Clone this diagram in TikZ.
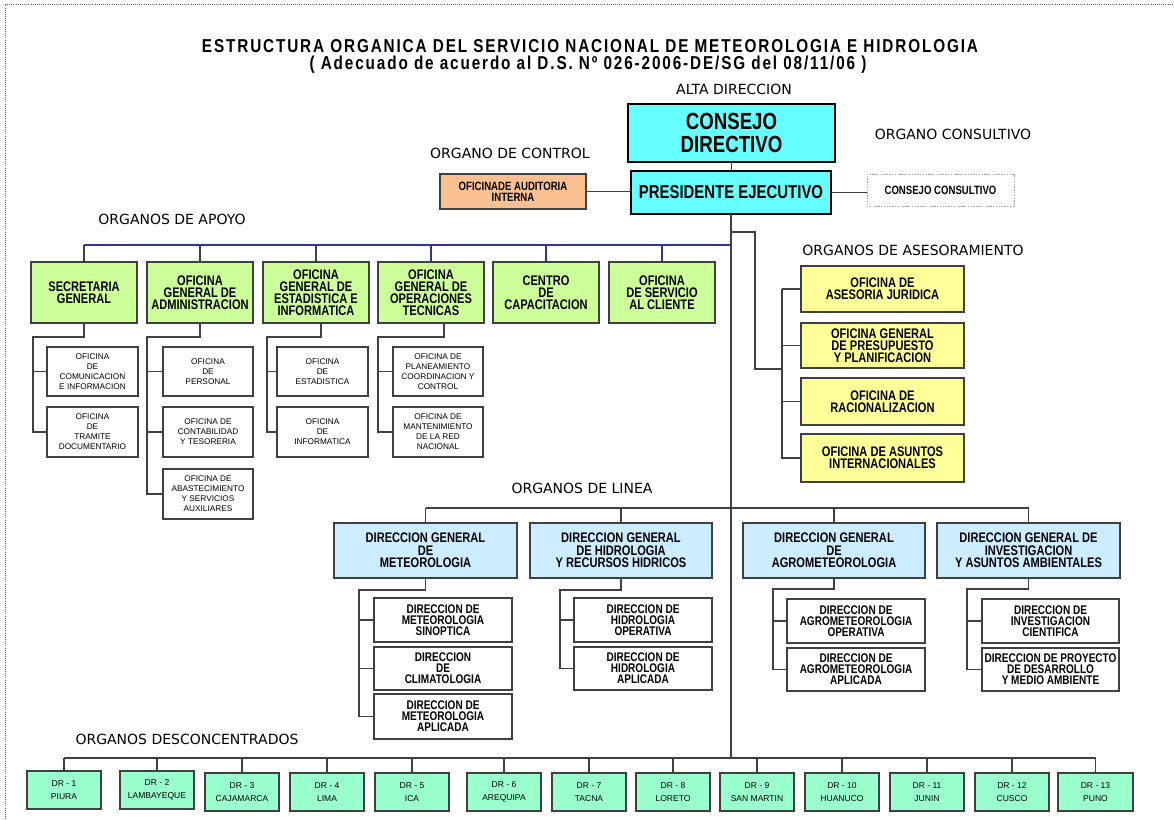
\documentclass[tikz,border=0pt]{standalone}
\usepackage{fontspec}
\setmainfont{Liberation Sans}
\newfontfamily\condf[FakeStretch=0.8]{Liberation Sans}
\newfontfamily\titlef[FakeStretch=0.82,LetterSpace=10]{Liberation Sans}
\newfontfamily\verdf{DejaVu Sans}
\usetikzlibrary{calc}
\definecolor{cyanC}{HTML}{66FFFF}
\definecolor{orangeC}{HTML}{FAC08F}
\definecolor{greenC}{HTML}{CCFF99}
\definecolor{yellowC}{HTML}{FFFF99}
\definecolor{blueC}{HTML}{CCECFF}
\definecolor{drC}{HTML}{99FFCC}
\definecolor{bordC}{HTML}{404040}
\definecolor{navyC}{HTML}{333399}
\newcommand\mycb[2]{\condf\bfseries\fontsize{#1}{#2}\selectfont}
\newcommand\myrg[2]{\fontsize{#1}{#2}\selectfont}
\newcommand\bx[7]{\node[#2, minimum width={(#5-#3)*0.75pt}, minimum height={(#6-#4)*0.75pt}] (#1) at ({(#3+#5)/2},{(#4+#6)/2}) {#7};}
\tikzset{
  bxs/.style={draw=bordC, line width=1.1pt, inner sep=0pt, outer sep=0pt, align=center},
  cdbox/.style={bxs, draw=black, line width=2pt, fill=cyanC},
  audbox/.style={bxs, fill=orangeC, font={\mycb{9}{8.5}}},
  ccbox/.style={bxs, draw=gray!70, densely dotted, line width=0.7pt, font={\mycb{9}{8.5}}},
  gbox/.style={bxs, fill=greenC, font={\mycb{10.4}{9}}},
  ybox/.style={bxs, fill=yellowC, font={\mycb{10.4}{9}}},
  dgbox/.style={bxs, fill=blueC, font={\mycb{10.4}{9.4}}},
  dsub/.style={bxs, fill=white, font={\mycb{9.4}{8.2}}},
  asub/.style={bxs, line width=0.9pt, fill=white, font={\myrg{6.2}{7.5}}},
  drbox/.style={bxs, fill=drC, font={\myrg{6.4}{9.6}}},
  lab/.style={inner sep=0pt, font={\verdf\fontsize{10.5}{12}\selectfont}},
  ttl/.style={inner sep=0pt, font={\titlef\bfseries\fontsize{14}{15}\selectfont}},
  conn/.style={draw=bordC, line width=0.8pt},
  bconn/.style={draw=navyC, line width=0.8pt},
  frame/.style={draw=gray!80!black, densely dotted, line width=0.6pt}
}
\begin{document}
\begin{tikzpicture}[x=0.75pt,y=-0.75pt]
\useasboundingbox (0,0) rectangle (1174,819);
\draw[frame] (5,819) -- (5,4) -- (1174,4);

% titles and labels
\node[ttl] (t1) at (590,46) {ESTRUCTURA ORGANICA DEL SERVICIO NACIONAL DE METEOROLOGIA E HIDROLOGIA};
\node[ttl] (t2) at (588,65) {( Adecuado de acuerdo al D.S. Nº 026-2006-DE/SG del 08/11/06 )};
\node[lab] (lalta) at (734,89) {ALTA DIRECCION};
\node[lab] (lcons) at (953,134) {ORGANO CONSULTIVO};
\node[lab] (lctrl) at (510,153) {ORGANO DE CONTROL};
\node[lab] (lapoyo) at (172,219) {ORGANOS DE APOYO};
\node[lab] (lases) at (913,250) {ORGANOS DE ASESORAMIENTO};
\node[lab] (llinea) at (582,488) {ORGANOS DE LINEA};
\node[lab] (ldesc) at (187,739) {ORGANOS DESCONCENTRADOS};

% alta direccion
\bx{cd}{cdbox, font={\mycb{17.5}{17}}}{628}{104}{835}{162}{CONSEJO\\DIRECTIVO}
\bx{pe}{cdbox, font={\mycb{14}{14}}}{631}{171}{831}{214}{PRESIDENTE EJECUTIVO}
\bx{aud}{audbox}{440}{174}{586}{209}{OFICINADE AUDITORIA\\INTERNA}
\bx{cc}{ccbox}{867}{174}{1014}{206}{CONSEJO CONSULTIVO}

% apoyo
\bx{sg}{gbox}{31}{262}{137}{323}{SECRETARIA\\GENERAL}
\bx{oga}{gbox}{147}{262}{253}{323}{OFICINA\\GENERAL DE\\ADMINISTRACION}
\bx{ogei}{gbox}{263}{262}{369}{323}{OFICINA\\GENERAL DE\\ESTADISTICA E\\INFORMATICA}
\bx{ogot}{gbox}{378}{262}{484}{323}{OFICINA\\GENERAL DE\\OPERACIONES\\TECNICAS}
\bx{cdc}{gbox}{493}{262}{599}{323}{CENTRO\\DE\\CAPACITACION}
\bx{osc}{gbox}{609}{262}{715}{323}{OFICINA\\DE SERVICIO\\AL CLIENTE}

\bx{sg1}{asub}{47}{347}{138}{396}{OFICINA\\DE\\COMUNICACION\\E INFORMACION}
\bx{sg2}{asub}{47}{407}{138}{457}{OFICINA\\DE\\TRAMITE\\DOCUMENTARIO}
\bx{oga1}{asub}{163}{347}{253}{396}{OFICINA\\DE\\PERSONAL}
\bx{oga2}{asub}{163}{407}{253}{457}{OFICINA DE\\CONTABILIDAD\\Y TESORERIA}
\bx{oga3}{asub}{163}{469}{253}{519}{OFICINA DE\\ABASTECIMIENTO\\Y SERVICIOS\\AUXILIARES}
\bx{ogei1}{asub}{277}{347}{368}{396}{OFICINA\\DE\\ESTADISTICA}
\bx{ogei2}{asub}{277}{407}{368}{457}{OFICINA\\DE\\INFORMATICA}
\bx{ogot1}{asub}{393}{347}{483}{396}{OFICINA DE\\PLANEAMIENTO\\COORDINACION  Y\\CONTROL}
\bx{ogot2}{asub}{393}{407}{483}{457}{OFICINA DE\\MANTENIMIENTO\\DE LA  RED\\NACIONAL}

% asesoramiento
\bx{y1}{ybox}{801}{266}{964}{312}{OFICINA DE\\ASESORIA JURIDICA}
\bx{y2}{ybox}{801}{323}{964}{368}{OFICINA  GENERAL\\DE PRESUPUESTO\\Y PLANIFICACION}
\bx{y3}{ybox}{801}{378}{964}{425}{OFICINA DE\\RACIONALIZACION}
\bx{y4}{ybox}{801}{434}{964}{482}{OFICINA DE ASUNTOS\\INTERNACIONALES}

% linea
\bx{dgm}{dgbox}{334}{523}{517}{578}{DIRECCION GENERAL\\DE\\METEOROLOGIA}
\bx{dgh}{dgbox}{530}{523}{712}{578}{DIRECCION GENERAL\\DE HIDROLOGIA\\Y RECURSOS HIDRICOS}
\bx{dga}{dgbox}{743}{523}{925}{578}{DIRECCION GENERAL\\DE\\AGROMETEOROLOGIA}
\bx{dgi}{dgbox}{937}{523}{1120}{578}{DIRECCION GENERAL DE\\INVESTIGACION\\Y ASUNTOS AMBIENTALES}

\bx{dm1}{dsub}{374}{598}{512}{642}{DIRECCION DE\\METEOROLOGIA\\SINOPTICA}
\bx{dm2}{dsub}{374}{647}{512}{690}{DIRECCION\\DE\\CLIMATOLOGIA}
\bx{dm3}{dsub}{374}{694}{512}{739}{DIRECCION DE\\METEOROLOGIA\\APLICADA}
\bx{dh1}{dsub}{574}{598}{712}{642}{DIRECCION DE\\HIDROLOGIA\\OPERATIVA}
\bx{dh2}{dsub}{574}{647}{712}{690}{DIRECCION DE\\HIDROLOGIA\\APLICADA}
\bx{da1}{dsub}{787}{599}{925}{643}{DIRECCION DE\\AGROMETEOROLOGIA\\OPERATIVA}
\bx{da2}{dsub}{787}{648}{925}{691}{DIRECCION DE\\AGROMETEOROLOGIA\\APLICADA}
\bx{di1}{dsub}{982}{599}{1119}{643}{DIRECCION DE\\INVESTIGACION\\CIENTIFICA}
\bx{di2}{dsub}{982}{648}{1119}{691}{DIRECCION DE PROYECTO\\DE DESARROLLO\\Y MEDIO AMBIENTE}

% desconcentrados
\bx{dr1}{drbox}{27}{771}{101}{809}{DR - 1\\PIURA}
\bx{dr2}{drbox}{120}{771}{194}{809}{DR - 2\\LAMBAYEQUE}
\bx{dr3}{drbox}{205}{773}{279}{811}{DR - 3\\CAJAMARCA}
\bx{dr4}{drbox}{290}{773}{364}{811}{DR - 4\\LIMA}
\bx{dr5}{drbox}{375}{773}{449}{811}{DR - 5\\ICA}
\bx{dr6}{drbox}{467}{773}{541}{811}{DR - 6\\AREQUIPA}
\bx{dr7}{drbox}{552}{773}{626}{811}{DR - 7\\TACNA}
\bx{dr8}{drbox}{636}{773}{710}{811}{DR - 8\\LORETO}
\bx{dr9}{drbox}{720}{773}{794}{811}{DR - 9\\SAN MARTIN}
\bx{dr10}{drbox}{805}{773}{879}{811}{DR - 10\\HUANUCO}
\bx{dr11}{drbox}{890}{773}{964}{811}{DR - 11\\JUNIN}
\bx{dr12}{drbox}{975}{773}{1049}{811}{DR - 12\\CUSCO}
\bx{dr13}{drbox}{1058}{773}{1133}{811}{DR - 13\\PUNO}

% helper coordinates
\coordinate (apbar) at (0,245);
\coordinate (lbar) at (0,508);
\coordinate (drbar) at (0,758);
\coordinate (asA) at (755,232);
\coordinate (asB) at (782,369);
\coordinate (sgv) at (33,337);
\coordinate (ogav) at (147,337);
\coordinate (ogeiv) at (267,337);
\coordinate (ogotv) at (378,337);
\coordinate (dmv) at (359,590);
\coordinate (dhv) at (560,590);
\coordinate (dav) at (773,589);
\coordinate (div) at (967,589);

% alta direccion connectors
\draw[conn] (cd.south) -- (cd.south |- pe.north);
\draw[conn] (aud.east) -- (aud.east -| pe.west);
\draw[conn] (pe.east) -- (pe.east -| cc.west);
\draw[conn] (pe.south) -- (pe.south |- drbar);

% apoyo connectors
\draw[bconn] (sg.north |- apbar) -- (pe.south |- apbar);
\draw[conn] (sg.north) -- (sg.north |- apbar);
\draw[conn] (oga.north) -- (oga.north |- apbar);
\draw[conn] (ogei.north) -- (ogei.north |- apbar);
\draw[bconn] (ogot.north) -- (ogot.north |- apbar);
\draw[bconn] (cdc.north) -- (cdc.north |- apbar);
\draw[bconn] (osc.north) -- (osc.north |- apbar);

\draw[conn] (sg.south) |- (sgv) |- (sg2.west);
\draw[conn] (sgv |- sg1.west) -- (sg1.west);
\draw[conn] (oga.south) |- (ogav) |- (oga3.west);
\draw[conn] (ogav |- oga1.west) -- (oga1.west);
\draw[conn] (ogav |- oga2.west) -- (oga2.west);
\draw[conn] ([xshift=3.75pt]ogei.south) |- (ogeiv) |- (ogei2.west);
\draw[conn] (ogeiv |- ogei1.west) -- (ogei1.west);
\draw[conn] ([xshift=9.75pt]ogot.south) |- (ogotv) |- (ogot2.west);
\draw[conn] (ogotv |- ogot1.west) -- (ogot1.west);

% asesoramiento connectors
\draw[conn] (pe.south |- asA) -- (asA) |- (asB);
\draw[conn] (asB |- y1.west) -- (asB |- y4.west) -- (y4.west);
\draw[conn] (asB |- y1.west) -- (y1.west);
\draw[conn] (asB |- y2.west) -- (y2.west);
\draw[conn] (asB |- y3.west) -- (y3.west);

% linea connectors
\draw[conn] (dgm.north |- lbar) -- (dgi.north |- lbar);
\draw[conn] (dgm.north) -- (dgm.north |- lbar);
\draw[conn] (dgh.north) -- (dgh.north |- lbar);
\draw[conn] (dga.north) -- (dga.north |- lbar);
\draw[conn] (dgi.north) -- (dgi.north |- lbar);

\draw[conn] (dgm.south) |- (dmv) |- (dm3.west);
\draw[conn] (dmv |- dm1.west) -- (dm1.west);
\draw[conn] (dmv |- dm2.west) -- (dm2.west);
\draw[conn] (dgh.south) |- (dhv) |- (dh2.west);
\draw[conn] (dhv |- dh1.west) -- (dh1.west);
\draw[conn] (dga.south) |- (dav) |- (da2.west);
\draw[conn] (dav |- da1.west) -- (da1.west);
\draw[conn] (dgi.south) |- (div) |- (di2.west);
\draw[conn] (div |- di1.west) -- (di1.west);

% desconcentrados connectors
\draw[conn] (dr1.north |- drbar) -- (dr13.north |- drbar);
\foreach \i in {1,...,13} {\draw[conn] (dr\i.north) -- (dr\i.north |- drbar);}
\end{tikzpicture}
\end{document}
